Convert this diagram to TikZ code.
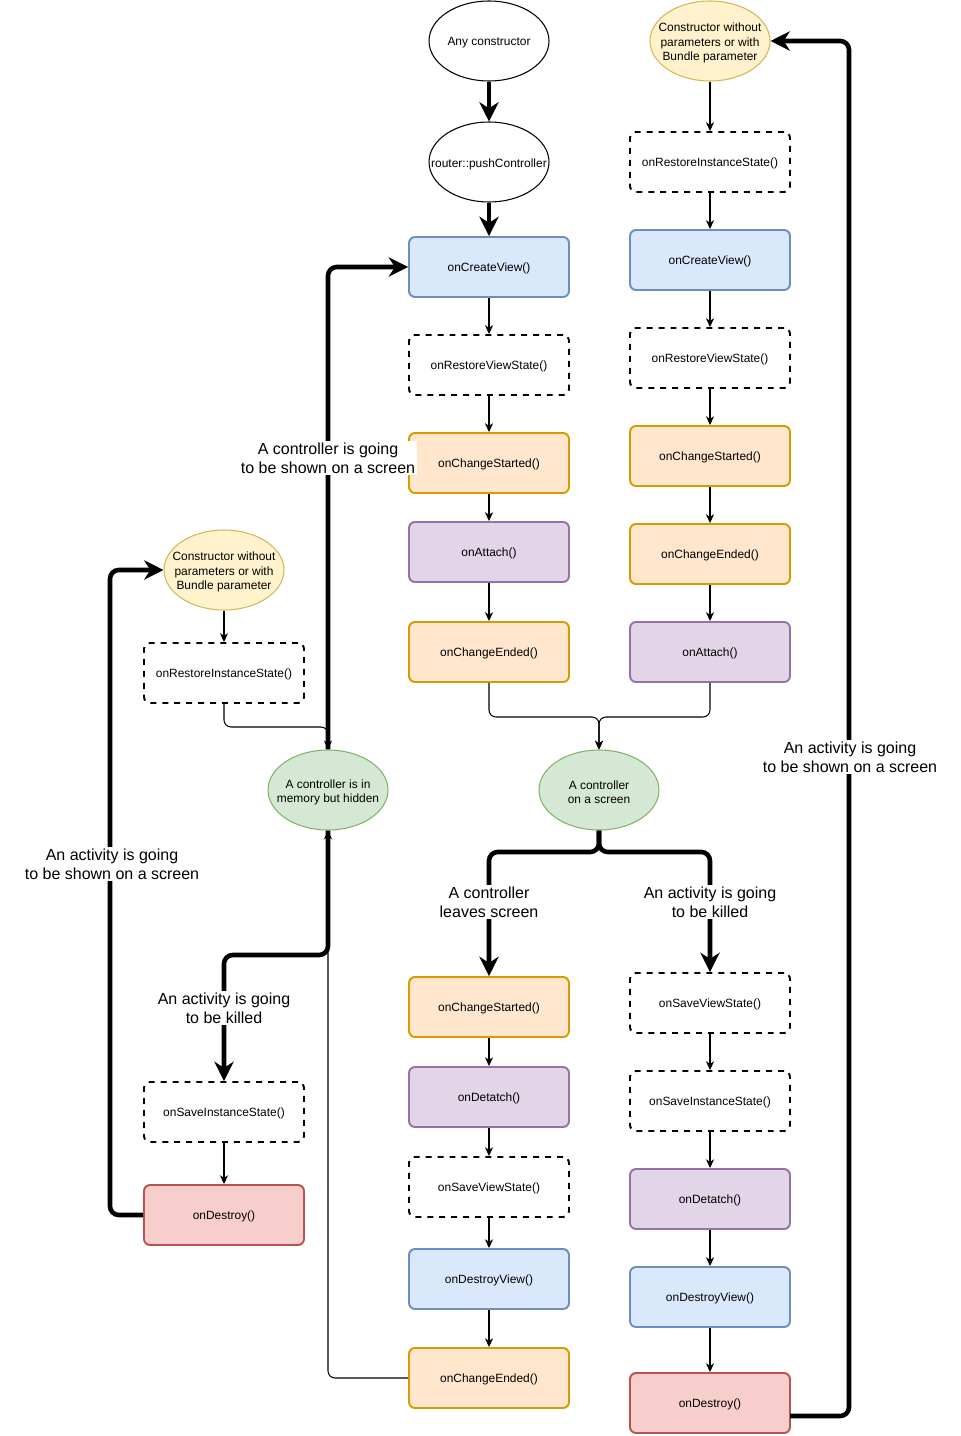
\documentclass[tikz,border=0pt]{standalone}
\usepackage{fontspec}
\setmainfont{Liberation Sans}
\usetikzlibrary{arrows.meta,shapes.geometric}

\definecolor{viewfill}{HTML}{DAE8FC}
\definecolor{viewdraw}{HTML}{6C8EBF}
\definecolor{changefill}{HTML}{FFE6CC}
\definecolor{changedraw}{HTML}{D79B00}
\definecolor{attachfill}{HTML}{E1D5E7}
\definecolor{attachdraw}{HTML}{9673A6}
\definecolor{destroyfill}{HTML}{F8CECC}
\definecolor{destroydraw}{HTML}{B85450}
\definecolor{initfill}{HTML}{FFF2CC}
\definecolor{initdraw}{HTML}{D6B656}
\definecolor{statefill}{HTML}{D5E8D4}
\definecolor{statedraw}{HTML}{82B366}

\begin{document}
\begin{tikzpicture}[x=0.02cm, y=-0.02cm,
    method/.style={draw, rounded corners=3.4pt, line width=1.1pt, minimum width=3.2cm, minimum height=1.2cm, text depth=0pt, font=\fontsize{6.8}{8}\selectfont},
    viewbox/.style={method, draw=viewdraw, fill=viewfill},
    changebox/.style={method, draw=changedraw, fill=changefill},
    attachbox/.style={method, draw=attachdraw, fill=attachfill},
    destroybox/.style={method, draw=destroydraw, fill=destroyfill},
    statebox/.style={method, draw=black, fill=white, dash pattern=on 3.4pt off 3.4pt},
    ovaltext/.style={align=center, yshift=-1.1pt, font=\fontsize{6.8}{8}\selectfont},
    oval/.style={ellipse, draw, fill=white, line width=0.6pt, minimum width=2.4cm, minimum height=1.6cm, inner sep=0pt},
    initoval/.style={oval, draw=initdraw, fill=initfill},
    stateoval/.style={oval, draw=statedraw, fill=statefill},
    flow/.style={line width=0.6pt, -{Stealth[length=5pt, width=4.6pt, inset=1.5pt]}, rounded corners=4pt},
    jump/.style={line width=2.6pt, -{Stealth[length=11pt, width=11pt, inset=3.5pt]}, rounded corners=5pt},
    note/.style={fill=white, align=center, inner sep=1pt, font=\fontsize{9.1}{10.6}\selectfont}]
    \fill[white] (0,0) rectangle (960,1436);
    \useasboundingbox (0,0) rectangle (960,1436);
    % entry points
    \begin{scope}
        \node[oval, label={[ovaltext]center:Any constructor}] (anyc) at (489,41) {};
        \node[oval, label={[ovaltext]center:router::pushController}] (push) at (489,162) {};
        \node[initoval, label={[ovaltext]center:{Constructor without\\parameters or with\\Bundle parameter}}] (rcons) at (710,41) {};
        \node[initoval, label={[ovaltext]center:{Constructor without\\parameters or with\\Bundle parameter}}] (lcons) at (224,570) {};
        \node[stateoval, label={[ovaltext]center:{A controller is in\\memory but hidden}}] (hidden) at (328,790) {};
        \node[stateoval, label={[ovaltext]center:{A controller\\on a screen}}] (shown) at (599,790) {};
    \end{scope}
    % lifecycle methods
    \begin{scope}
        \node[viewbox] (cv1) at (489,267) {onCreateView()};
        \node[statebox] (rvs1) at (489,365) {onRestoreViewState()};
        \node[changebox] (cs1) at (489,463) {onChangeStarted()};
        \node[attachbox] (at1) at (489,552) {onAttach()};
        \node[changebox] (ce1) at (489,652) {onChangeEnded()};

        \node[statebox] (ris1) at (710,162) {onRestoreInstanceState()};
        \node[viewbox] (cv2) at (710,260) {onCreateView()};
        \node[statebox] (rvs2) at (710,358) {onRestoreViewState()};
        \node[changebox] (cs2) at (710,456) {onChangeStarted()};
        \node[changebox] (ce2) at (710,554) {onChangeEnded()};
        \node[attachbox] (at2) at (710,652) {onAttach()};

        \node[statebox] (ris2) at (224,673) {onRestoreInstanceState()};
        \node[statebox] (sis1) at (224,1112) {onSaveInstanceState()};
        \node[destroybox] (des1) at (224,1215) {onDestroy()};

        \node[changebox] (cs3) at (489,1007) {onChangeStarted()};
        \node[attachbox] (dt1) at (489,1097) {onDetatch()};
        \node[statebox] (svs1) at (489,1187) {onSaveViewState()};
        \node[viewbox] (dv1) at (489,1279) {onDestroyView()};
        \node[changebox] (ce3) at (489,1378) {onChangeEnded()};

        \node[statebox] (svs2) at (710,1003) {onSaveViewState()};
        \node[statebox] (sis2) at (710,1101) {onSaveInstanceState()};
        \node[attachbox] (dt2) at (710,1199) {onDetatch()};
        \node[viewbox] (dv2) at (710,1297) {onDestroyView()};
        \node[destroybox] (des2) at (710,1403) {onDestroy()};
    \end{scope}
    \coordinate (merge) at (599,717);
    \coordinate (restore) at (328,727);
    \coordinate (split) at (599,852);
    \coordinate (killbend) at (328,955);
    \coordinate (leftbend) at (110,1215);
    \coordinate (destroyout) at (790,1416);
    \coordinate (rightbend) at (849,1416);
    % thick transitions
    \begin{scope}
        \draw[jump] (anyc) -- (push);
        \draw[jump] (push) -- (cv1);
        \draw[jump] (hidden.north) |- (cv1.west);
        \draw[jump] (shown.south) -- (split) -| (cs3.north);
        \draw[jump] (shown.south) -- (split) -| (svs2.north);
        \draw[jump] (hidden.south) -- (killbend) -| (sis1.north);
        \draw[jump] (des1.west) -- (leftbend) |- (lcons.west);
        \draw[jump] (destroyout) -- (rightbend) |- (rcons.east);
    \end{scope}
    % plain calls
    \begin{scope}
        \tikzstyle{every edge}=[draw, flow]
        \path
        (cv1) edge (rvs1)
        (rvs1) edge (cs1)
        (cs1) edge (at1)
        (at1) edge (ce1)
        (rcons) edge (ris1)
        (ris1) edge (cv2)
        (cv2) edge (rvs2)
        (rvs2) edge (cs2)
        (cs2) edge (ce2)
        (ce2) edge (at2)
        (lcons) edge (ris2)
        (sis1) edge (des1)
        (cs3) edge (dt1)
        (dt1) edge (svs1)
        (svs1) edge (dv1)
        (dv1) edge (ce3)
        (svs2) edge (sis2)
        (sis2) edge (dt2)
        (dt2) edge (dv2)
        (dv2) edge (des2);
        \draw[flow] (ce1.south) |- (merge) -- (shown.north);
        \draw[flow] (at2.south) |- (merge) -- (shown.north);
        \draw[flow] (ris2.south) |- (restore) -- (hidden.north);
        \draw[flow] (ce3.west) -| (hidden.south);
    \end{scope}
    % edge labels
    \node[note] (goshow) at (328,458) {A controller is going\\to be shown on a screen};
    \node[note] (actshowl) at (112,864) {An activity is going\\to be shown on a screen};
    \node[note] (actkilll) at (224,1008) {An activity is going\\to be killed};
    \node[note] (leave) at (489,902) {A controller\\leaves screen};
    \node[note] (actkillr) at (710,902) {An activity is going\\to be killed};
    \node[note] (actshowr) at (850,757) {An activity is going\\to be shown on a screen};
\end{tikzpicture}
\end{document}
